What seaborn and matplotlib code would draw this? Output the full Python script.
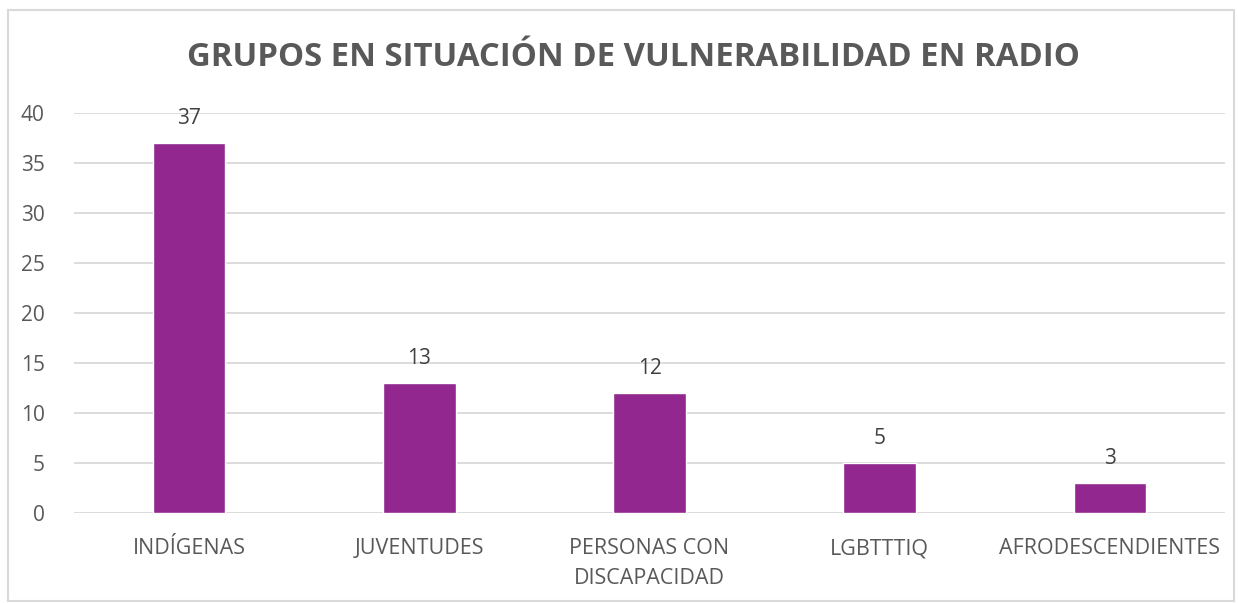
import matplotlib
matplotlib.use("Agg")
import matplotlib.pyplot as plt
import seaborn as sns
import pandas as pd
from matplotlib.patches import Rectangle

# datos del gráfico
grupos = ["INDÍGENAS", "JUVENTUDES", "PERSONAS CON\nDISCAPACIDAD", "LGBTTTIQ", "AFRODESCENDIENTES"]
valores = [37, 13, 12, 5, 3]
marcas_y = [0, 5, 10, 15, 20, 25, 30, 35, 40]

df = pd.DataFrame({"grupo": grupos, "valor": valores})

sns.set_theme(style="white")
plt.rcParams['font.family'] = ['Open Sans', 'DejaVu Sans']

gris = "#595959"
fig = plt.figure(figsize=(12.38, 6.03), dpi=100)
ax = fig.add_axes([74 / 1238, 1 - 513 / 603, (1225 - 74) / 1238, 400 / 603])

sns.barplot(data=df, x="grupo", y="valor", color="#92278F", width=0.315,
            saturation=1, ax=ax, zorder=3)

# etiquetas de valor sobre cada barra
for i, v in enumerate(valores):
    ax.annotate(str(v), (i, v), xytext=(0, 10), textcoords="offset points",
                ha="center", va="bottom", fontsize=15, color="#404040")

ax.set_ylim(0, 40)
ax.set_xlim(-0.5, len(grupos) - 0.5)
ax.set_yticks(marcas_y)
ax.grid(axis="y", color="#D9D9D9", linewidth=1.3, zorder=0)
ax.set_axisbelow(True)
for s in ax.spines.values():
    s.set_visible(False)
ax.tick_params(axis="y", length=0, pad=21, labelsize=15, labelcolor=gris)
ax.tick_params(axis="x", length=0, pad=18, labelsize=15.5, labelcolor=gris)
for t in ax.get_xticklabels():
    t.set_linespacing(1.55)
ax.set_xlabel("")
ax.set_ylabel("")

fig.text(0.512, 1 - 58 / 603, "GRUPOS EN SITUACIÓN DE VULNERABILIDAD EN RADIO",
         ha="center", va="center", fontsize=23.7, fontweight="bold", color=gris)

# marco exterior
fig.patches.append(Rectangle((8 / 1238, 0.003), 1 - 12 / 1238, 1 - 10 / 603 - 0.003,
                             transform=fig.transFigure, fill=False,
                             edgecolor="#D9D9D9", linewidth=1.5))

fig.savefig("out.png", dpi=100)
